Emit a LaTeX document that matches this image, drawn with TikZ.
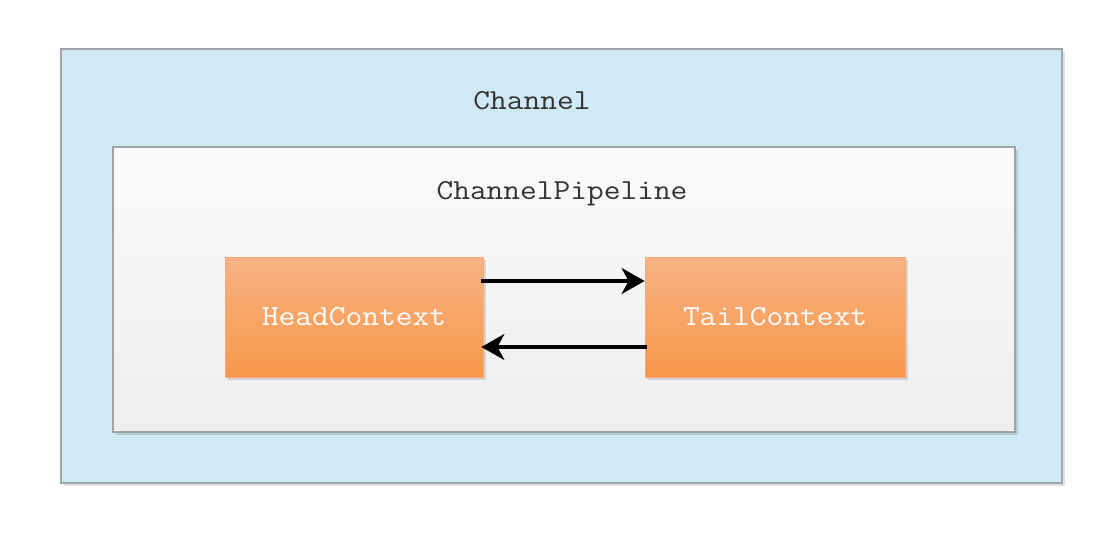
\documentclass[tikz,border=0pt]{standalone}
\usepackage{fontspec}
\usepackage{graphicx}
\usetikzlibrary{arrows.meta,shadows}
\definecolor{outerfill}{RGB}{208,234,245}
\definecolor{boxline}{RGB}{158,164,168}
\definecolor{innertop}{RGB}{250,250,250}
\definecolor{innerbot}{RGB}{238,238,238}
\definecolor{orangetop}{RGB}{248,178,132}
\definecolor{orangebot}{RGB}{247,152,74}
\definecolor{orangeline}{RGB}{245,170,120}
\definecolor{titletext}{RGB}{51,51,51}
\newcommand\mylabel[1]{\scalebox{1.12}[1]{#1}}
\tikzset{
  shade/.style={drop shadow={shadow xshift=3pt,shadow yshift=-3pt,fill=black,opacity=0.12}},
  container/.style={rectangle,draw=boxline,line width=1.3pt,inner sep=0pt,shade},
  ctxbox/.style={rectangle,draw=orangeline,line width=0.8pt,inner sep=0pt,
    top color=orangetop,bottom color=orangebot,shade,
    minimum height=120pt,text=white,font=\ttfamily\fontsize{29}{31}\selectfont},
  title/.style={anchor=base,text=titletext,font=\ttfamily\fontsize{29}{31}\selectfont,inner sep=0pt},
  link/.style={line width=3.2pt,-{Stealth[length=23pt,width=26pt,inset=7pt]}}
}
\begin{document}
\begin{tikzpicture}[x=1pt,y=-1pt]
\useasboundingbox[fill=white] (0,0) rectangle (1120,536);
\node[container,fill=outerfill,minimum width=1001pt,minimum height=434pt] (outer) at (561.5,266) {};
\node[container,top color=innertop,bottom color=innerbot,minimum width=902pt,minimum height=285pt] (inner) at (564,289.5) {};
\node[title] (channel) at (532,109) {\mylabel{Channel}};
\node[title] (pipeline) at (562,199) {\mylabel{ChannelPipeline}};
\node[ctxbox,minimum width=258pt] (head) at (354,317) {\mylabel{HeadContext}};
\node[ctxbox,minimum width=260pt] (tail) at (775,317) {\mylabel{TailContext}};
\draw[link] ([yshift=36pt,xshift=-2pt]head.east) -- ([yshift=36pt]tail.west);
\draw[link] ([yshift=-30pt,xshift=2pt]tail.west) -- ([yshift=-30pt,xshift=-2pt]head.east);
\end{tikzpicture}
\end{document}
